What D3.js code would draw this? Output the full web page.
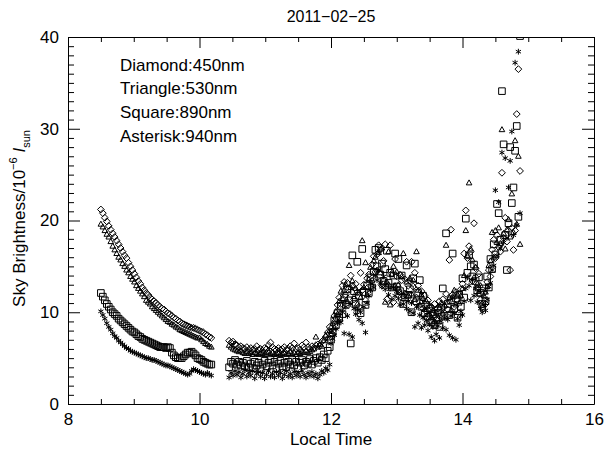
<!DOCTYPE html>
<html>
<head>
<meta charset="utf-8">
<script src="https://cdn.jsdelivr.net/npm/d3@7"></script>
<style>
body { margin: 0; background: #fff; }
svg text { font-family: "Liberation Sans", Arial, Helvetica, sans-serif; fill: #000; }
</style>
</head>
<body>
<div id="container"></div>
<script>
// sampling times (local time, hours)
var timeAM = [8.50,8.53,8.56,8.59,8.62,8.65,8.68,8.71,8.74,8.77,
  8.80,8.83,8.86,8.89,8.92,8.95,8.98,9.01,9.04,9.07,
  9.10,9.13,9.16,9.19,9.22,9.25,9.28,9.31,9.34,9.37,
  9.40,9.43,9.46,9.49,9.52,9.55,9.58,9.61,9.64,9.67,
  9.70,9.73,9.76,9.79,9.82,9.85,9.88,9.91,9.94,9.97,
  10.00,10.03,10.06,10.09,10.12,10.15,10.18]
var timeNoon = [10.45,10.48,10.51,10.54,10.57,10.60,10.63,10.66,10.69,10.72,
  10.75,10.78,10.81,10.84,10.87,10.90,10.93,10.96,10.99,11.02,
  11.05,11.08,11.11,11.14,11.17,11.20,11.23,11.26,11.29,11.32,
  11.35,11.38,11.41,11.44,11.47,11.50,11.53,11.56,11.59,11.62,
  11.65,11.68,11.71,11.74,11.77,11.80,11.83,11.86,11.89,11.92,
  11.95,11.98]
var timePM = [12.000,12.025,12.050,12.075,12.100,12.125,12.150,12.175,12.200,12.225,
  12.250,12.275,12.300,12.325,12.350,12.375,12.400,12.425,12.450,12.475,
  12.500,12.525,12.550,12.575,12.600,12.625,12.650,12.675,12.700,12.725,
  12.750,12.775,12.800,12.825,12.850,12.875,12.900,12.925,12.950,12.975,
  13.000,13.025,13.050,13.075,13.100,13.125,13.150,13.175,13.200,13.225,
  13.250,13.275,13.300,13.325,13.350,13.375,13.400,13.425,13.450,13.475,
  13.500,13.525,13.550,13.575,13.600,13.625,13.650,13.675,13.700,13.725,
  13.750,13.775,13.800,13.825,13.850,13.875,13.900,13.925,13.950,13.975,
  14.000,14.025,14.050,14.075,14.100,14.125,14.150,14.175,14.200,14.225,
  14.250,14.275,14.300,14.325,14.350,14.375,14.400,14.425,14.450,14.475,
  14.500,14.525,14.550,14.575,14.600,14.625,14.650,14.675,14.700,14.725,
  14.750,14.775,14.800,14.825,14.850,14.875]

// Diamond: 450nm
var diamondAM = [21.2,20.8,20.3,19.9,19.4,19.0,18.6,18.2,17.8,17.4,
  17.0,16.6,16.2,15.9,15.4,15.0,14.6,14.2,13.8,13.4,
  13.1,12.7,12.4,12.1,11.9,11.6,11.4,11.2,11.0,10.8,
  10.6,10.4,10.3,10.1,9.9,9.8,9.6,9.4,9.3,9.1,
  9.0,8.8,8.7,8.6,8.5,8.4,8.3,8.3,8.2,8.1,
  8.0,7.9,7.8,7.6,7.5,7.3,7.2]
var diamondNoon = [6.9,6.7,6.8,6.5,6.4,6.2,6.3,6.1,6.0,6.2,
  5.9,6.1,5.9,6.0,6.3,5.9,6.0,5.8,6.1,6.0,
  6.4,6.7,6.2,6.0,5.9,6.1,5.9,6.0,6.2,5.9,
  6.0,6.3,6.1,6.6,6.0,6.1,5.9,6.4,6.2,6.7,
  6.2,6.0,6.3,6.1,6.4,6.5,6.3,6.8,7.0,7.3,
  7.8,8.4]
var diamondPM = [8.2,7.6,9.6,9.3,10.8,11.6,10.9,12.9,13.3,11.9,
  13.2,12.6,14.0,12.9,11.4,13.1,12.2,10.6,14.3,12.4,
  13.0,11.3,13.7,14.1,12.9,15.2,16.1,14.4,16.3,17.3,
  16.8,12.9,15.6,17.4,11.4,12.9,17.3,14.2,11.1,15.8,
  13.9,12.4,14.1,13.5,11.8,13.6,15.5,12.9,13.4,15.5,
  12.8,14.3,11.6,12.9,11.1,12.3,10.4,11.8,10.1,11.3,
  9.6,10.6,9.9,10.9,9.2,10.4,11.2,9.7,11.4,10.6,
  12.0,10.3,15.7,19.0,11.9,10.6,12.2,11.3,9.9,12.5,
  13.1,16.4,21.1,15.9,17.2,16.6,13.4,19.7,14.8,12.6,
  14.2,11.4,10.5,12.1,10.9,13.3,14.6,13.9,16.8,17.9,
  15.9,18.4,17.1,16.6,25.2,18.1,20.3,17.7,18.9,14.6,
  19.2,16.8,18.9,31.6,36.5,25.4]

// Triangle: 530nm
var triangleAM = [19.6,19.3,18.9,18.5,18.2,17.7,17.2,16.8,16.4,16.0,
  15.7,15.3,15.0,14.6,14.3,13.9,13.6,13.3,12.9,12.6,
  12.3,12.0,11.7,11.3,11.1,10.9,10.6,10.4,10.2,10.0,
  9.8,9.6,9.4,9.2,9.0,8.9,8.7,8.6,8.4,8.3,
  8.1,8.0,7.9,7.8,7.7,7.6,7.5,7.4,7.3,7.2,
  7.2,7.0,6.8,6.6,6.5,6.3,6.2]
var triangleNoon = [6.4,6.2,6.0,5.9,5.8,5.7,5.8,5.6,5.5,5.7,
  5.5,5.6,5.4,5.6,5.5,5.4,5.6,5.5,5.4,5.6,
  5.7,5.5,5.6,5.4,5.5,5.6,5.4,5.5,5.6,5.4,
  5.5,5.7,5.5,5.6,5.4,5.6,5.5,5.7,5.6,5.8,
  5.6,5.7,5.9,6.0,7.3,6.2,6.5,6.3,6.9,7.5,
  7.2,8.0]
var trianglePM = [7.9,8.8,8.3,10.1,9.8,11.2,12.3,11.5,12.4,13.0,
  11.2,15.1,12.7,13.4,11.7,12.6,10.9,12.1,11.6,17.8,
  12.7,15.4,11.9,13.6,14.9,13.5,15.6,16.0,14.6,16.5,
  14.3,17.0,13.6,11.1,13.3,16.6,10.8,14.1,15.0,12.9,
  14.4,13.0,12.2,13.9,16.4,12.1,13.3,11.8,13.7,12.0,
  13.5,11.4,16.6,12.4,10.8,11.9,11.5,10.3,11.2,9.8,
  10.7,9.4,10.2,9.0,10.0,9.3,10.5,11.0,9.9,10.8,
  17.3,11.1,11.6,10.2,11.7,12.4,10.8,11.9,11.0,11.8,
  12.6,14.0,18.9,16.2,24.1,16.9,15.7,13.8,14.9,13.1,
  12.0,12.9,11.0,11.8,12.2,12.8,15.1,15.6,18.7,16.0,
  18.9,17.6,19.2,17.5,29.9,18.6,16.9,19.0,20.1,18.2,
  22.9,18.7,28.7,19.6,27.0,17.4]

// Square: 890nm
var squareAM = [12.1,11.7,11.3,10.9,10.6,10.3,10.0,9.8,9.6,9.3,
  9.1,8.9,8.7,8.5,8.3,8.1,7.9,7.8,7.6,7.4,
  7.3,7.1,7.0,6.9,6.8,6.7,6.6,6.5,6.4,6.3,
  6.2,6.2,6.2,6.1,6.2,6.1,5.6,5.3,5.1,5.0,
  5.0,5.0,5.2,5.4,5.6,5.6,5.7,5.5,5.3,5.0,
  4.9,4.8,4.6,4.5,4.4,4.3,4.3]
var squareNoon = [4.0,4.6,4.4,4.8,4.3,4.6,4.2,4.5,4.1,4.7,
  4.0,4.4,3.9,4.6,4.2,4.5,3.8,4.3,4.7,4.1,
  4.5,4.8,4.2,4.6,3.9,4.4,4.7,4.1,4.5,4.0,
  4.6,4.3,4.8,4.2,4.6,3.9,4.5,4.8,4.2,4.6,
  4.4,4.9,4.3,4.7,5.0,4.5,5.1,4.8,5.4,5.0,
  5.8,6.2]
var squarePM = [7.0,7.8,9.1,8.6,9.9,9.4,10.7,9.8,11.6,10.8,
  12.5,11.3,6.6,16.2,12.3,10.9,15.5,11.8,9.9,16.9,
  12.2,10.8,12.9,12.1,13.8,12.7,14.4,16.8,15.0,17.0,
  14.1,15.3,13.4,14.7,16.7,13.2,14.3,12.7,14.0,16.4,
  12.8,15.8,12.3,14.0,10.9,11.6,15.1,11.9,12.5,10.0,
  13.7,15.3,11.2,12.1,13.5,10.6,11.8,9.9,10.8,9.5,
  10.4,8.9,9.8,8.6,9.3,10.2,8.4,10.5,12.6,9.6,
  18.6,10.9,9.7,11.3,16.4,10.4,11.5,9.4,11.9,10.6,
  13.7,11.6,20.2,14.3,16.2,15.0,13.9,15.2,13.4,12.4,
  13.8,12.1,10.9,12.6,11.2,13.9,12.7,15.8,14.7,17.4,
  16.3,21.8,20.8,17.9,34.1,28.3,18.4,14.6,19.7,28.0,
  21.9,23.6,27.6,30.3,20.4,40.1]

// Asterisk: 940nm
var asteriskAM = [10.1,9.7,9.3,8.8,8.4,8.1,7.7,7.4,7.2,6.9,
  6.7,6.5,6.3,6.1,6.0,5.8,5.7,5.6,5.5,5.4,
  5.3,5.2,5.1,5.0,5.0,4.9,4.8,4.8,4.7,4.6,
  4.5,4.4,4.3,4.2,4.2,4.1,4.0,3.9,3.8,3.7,
  3.6,3.5,3.4,3.3,3.2,3.3,3.6,3.8,3.7,3.6,
  3.5,3.4,3.3,3.2,3.4,3.2,3.1]
var asteriskNoon = [2.9,3.4,3.1,3.6,3.2,3.5,2.9,3.3,3.7,3.0,
  3.4,3.1,3.6,2.8,3.3,3.5,3.0,3.4,2.8,3.2,
  3.6,3.0,3.3,2.9,3.5,3.1,3.4,2.8,3.2,3.6,
  3.0,3.3,2.9,3.5,3.1,3.4,3.0,3.6,3.2,2.9,
  3.4,3.1,3.5,3.0,3.3,2.8,3.2,3.6,3.4,3.9,
  3.7,4.3]
var asteriskPM = [6.6,7.1,7.5,8.2,8.8,9.1,8.9,10.0,7.7,10.6,
  9.6,7.6,10.9,7.3,10.4,9.8,10.3,9.2,10.0,8.8,
  10.6,7.8,11.0,11.8,12.4,13.1,12.7,14.0,13.5,14.6,
  13.2,12.8,13.9,12.5,13.1,11.9,12.6,11.4,12.7,11.8,
  12.3,11.5,10.8,12.0,10.9,11.6,10.4,11.2,10.1,11.0,
  9.9,8.4,10.6,8.8,9.7,8.3,9.4,8.6,9.1,8.0,
  8.7,7.3,8.4,6.9,7.6,8.5,7.2,9.0,8.3,9.4,
  8.1,9.2,7.5,9.6,7.2,9.9,7.0,9.3,8.6,10.1,
  9.7,11.2,12.6,13.8,12.9,11.3,13.5,11.8,12.6,11.1,
  12.3,10.4,10.0,10.8,10.2,11.4,12.8,13.2,14.6,15.1,
  23.3,16.2,22.0,17.0,27.4,17.6,26.8,18.1,23.6,26.5,
  29.7,18.4,37.2,19.5,38.4,20.8]

var xMajor = [8, 10, 12, 14, 16]
var xMinor = [8.5, 9, 9.5, 10.5, 11, 11.5, 12.5, 13, 13.5, 14.5, 15, 15.5]
var yMajor = [0, 10, 20, 30, 40]
var yMinor = [1,2,3,4,5,6,7,8,9,11,12,13,14,15,16,17,18,19,21,22,23,24,25,26,27,28,29,31,32,33,34,35,36,37,38,39]
var legendLines = ['Diamond:450nm', 'Triangle:530nm', 'Square:890nm', 'Asterisk:940nm']

var width = 604, height = 452
var fontSize = 17

var x = d3.scaleLinear().domain([8, 16]).range([68, 594])
var y = d3.scaleLinear().domain([0, 40]).range([404, 37])

var svg = d3.select('#container').append('svg')
  .attr('width', width).attr('height', height)

svg.append('rect').attr('width', width).attr('height', height).attr('fill', '#fff')

svg.append('clipPath').attr('id', 'plotclip')
  .append('rect')
  .attr('x', x(8)).attr('y', y(40))
  .attr('width', x(16) - x(8)).attr('height', y(0) - y(40))

// marker shapes, IDL-like psym
var shapes = {
  diamond: 'M0,-3.4L3.4,0L0,3.4L-3.4,0Z',
  triangle: 'M0,-3L2.8,2L-2.8,2Z',
  square: 'M-3.3,-3.3H3.3V3.3H-3.3Z',
  asterisk: 'M0,-2.9V2.9M-2.6,-1.5L2.6,1.5M-2.6,1.5L2.6,-1.5'
}

var series = [
  { shape: 'diamond', t: timeAM.concat(timeNoon, timePM), v: diamondAM.concat(diamondNoon, diamondPM) },
  { shape: 'triangle', t: timeAM.concat(timeNoon, timePM), v: triangleAM.concat(triangleNoon, trianglePM) },
  { shape: 'square', t: timeAM.concat(timeNoon, timePM), v: squareAM.concat(squareNoon, squarePM) },
  { shape: 'asterisk', t: timeAM.concat(timeNoon, timePM), v: asteriskAM.concat(asteriskNoon, asteriskPM) }
]

var plot = svg.append('g').attr('clip-path', 'url(#plotclip)')

series.forEach(function (s) {
  var pts = s.t.map(function (t, i) { return [t, s.v[i]] })
    .filter(function (d) { return d[1] != null })
  plot.append('g')
    .selectAll('path')
    .data(pts)
    .enter()
    .append('path')
    .attr('transform', function (d) { return 'translate(' + x(d[0]) + ',' + y(d[1]) + ')' })
    .attr('d', shapes[s.shape])
    .attr('fill', 'none')
    .attr('stroke', '#000')
    .attr('stroke-width', 1)
})

// axes: labelled bottom/left, mirrored ticks top/right
function styleAxis(g) {
  g.attr('font-family', '"Liberation Sans", Arial, Helvetica, sans-serif')
    .attr('font-size', fontSize)
  g.selectAll('line').attr('stroke', '#000')
  g.selectAll('path').attr('stroke', '#000')
}

svg.append('g').attr('transform', 'translate(0,' + y(0) + ')')
  .call(d3.axisBottom(x).tickValues(xMajor).tickFormat(d3.format('d'))
    .tickSizeInner(-11).tickSizeOuter(0).tickPadding(9))
  .call(styleAxis)
svg.append('g').attr('transform', 'translate(0,' + y(0) + ')')
  .call(d3.axisBottom(x).tickValues(xMinor).tickFormat('').tickSizeInner(-5).tickSizeOuter(0))
  .call(styleAxis)
  .select('.domain').remove()

svg.append('g').attr('transform', 'translate(0,' + y(40) + ')')
  .call(d3.axisTop(x).tickValues(xMajor).tickFormat('').tickSizeInner(-11).tickSizeOuter(0))
  .call(styleAxis)
svg.append('g').attr('transform', 'translate(0,' + y(40) + ')')
  .call(d3.axisTop(x).tickValues(xMinor).tickFormat('').tickSizeInner(-5).tickSizeOuter(0))
  .call(styleAxis)
  .select('.domain').remove()

svg.append('g').attr('transform', 'translate(' + x(8) + ',0)')
  .call(d3.axisLeft(y).tickValues(yMajor).tickFormat(d3.format('d'))
    .tickSizeInner(-12).tickSizeOuter(0).tickPadding(9))
  .call(styleAxis)
svg.append('g').attr('transform', 'translate(' + x(8) + ',0)')
  .call(d3.axisLeft(y).tickValues(yMinor).tickFormat('').tickSizeInner(-6).tickSizeOuter(0))
  .call(styleAxis)
  .select('.domain').remove()

svg.append('g').attr('transform', 'translate(' + x(16) + ',0)')
  .call(d3.axisRight(y).tickValues(yMajor).tickFormat('').tickSizeInner(-12).tickSizeOuter(0))
  .call(styleAxis)
svg.append('g').attr('transform', 'translate(' + x(16) + ',0)')
  .call(d3.axisRight(y).tickValues(yMinor).tickFormat('').tickSizeInner(-6).tickSizeOuter(0))
  .call(styleAxis)
  .select('.domain').remove()

// title and axis titles
var midX = (x(8) + x(16)) / 2
svg.append('text').attr('x', midX).attr('y', 22)
  .attr('text-anchor', 'middle').attr('font-size', fontSize - 1)
  .text('2011\u221202\u221225')

svg.append('text').attr('x', midX).attr('y', 445)
  .attr('text-anchor', 'middle').attr('font-size', fontSize)
  .text('Local Time')

var ylab = svg.append('text')
  .attr('transform', 'translate(25,' + ((y(0) + y(40)) / 2 - 2) + ') rotate(-90)')
  .attr('text-anchor', 'middle').attr('font-size', fontSize)
ylab.append('tspan').text('Sky Brightness/10')
ylab.append('tspan').attr('dy', -8).attr('font-size', 11).text('\u22126')
ylab.append('tspan').attr('dy', 8).text(' ')
ylab.append('tspan').attr('font-style', 'italic').text('I')
ylab.append('tspan').attr('dy', 5).attr('font-size', 11).text('sun')

// legend text
svg.append('g').selectAll('text')
  .data(legendLines)
  .enter()
  .append('text')
  .attr('x', 120)
  .attr('y', function (d, i) { return 70.5 + i * 23.7 })
  .attr('font-size', fontSize)
  .text(function (d) { return d })
</script>
</body>
</html>
